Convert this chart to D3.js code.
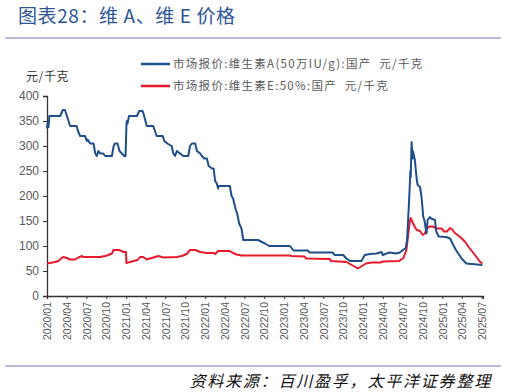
<!DOCTYPE html>
<html>
<head>
<meta charset="utf-8">
<script src="https://cdn.jsdelivr.net/npm/d3@7"></script>
<style>
  body { margin: 0; background: #fff; }
  svg { display: block; font-family: "Liberation Sans", Arial, sans-serif; }
  .cn { font-family: "Noto Sans CJK SC", sans-serif; }
</style>
</head>
<body>
<div id="chart"></div>
<script>
// Vitamin A (50万IU/g) price, 元/千克
const vaDates = [
  '2020-01-01','2020-01-05','2020-01-08','2020-01-12','2020-03-02','2020-03-14','2020-03-24','2020-04-02',
  '2020-04-17','2020-05-17','2020-05-23','2020-06-02','2020-06-25','2020-07-03','2020-07-07','2020-07-18',
  '2020-08-03','2020-08-11','2020-08-18','2020-08-26','2020-09-03','2020-09-17','2020-09-26','2020-10-27',
  '2020-11-04','2020-11-10','2020-11-22','2020-12-01','2020-12-12','2020-12-23','2020-12-29','2021-01-02',
  '2021-01-04','2021-01-07','2021-01-14','2021-02-20','2021-03-02','2021-03-18','2021-03-25','2021-04-06',
  '2021-05-06','2021-05-14','2021-05-22','2021-06-19','2021-06-26','2021-07-10','2021-07-30','2021-08-07',
  '2021-08-15','2021-08-23','2021-09-07','2021-09-22','2021-10-15','2021-10-23','2021-11-01','2021-11-16',
  '2021-11-24','2021-12-09','2021-12-17','2021-12-28','2022-01-09','2022-01-17','2022-02-02','2022-02-09',
  '2022-02-16','2022-02-24','2022-03-02','2022-03-04','2022-04-25','2022-05-03','2022-05-10','2022-05-21',
  '2022-05-29','2022-06-07','2022-06-18','2022-06-26','2022-09-02','2022-09-11','2022-10-04','2022-10-24',
  '2023-01-28','2023-02-13','2023-04-20','2023-04-29','2023-08-13','2023-08-23','2023-10-01','2023-10-16',
  '2023-11-01','2023-12-24','2024-01-09','2024-02-02','2024-03-03','2024-03-26','2024-04-01','2024-04-18',
  '2024-05-03','2024-06-03','2024-06-18','2024-07-03','2024-07-16','2024-07-22','2024-07-30','2024-08-04',
  '2024-08-06','2024-08-08','2024-08-12','2024-08-16','2024-08-18','2024-08-27','2024-09-05','2024-09-09',
  '2024-09-20','2024-09-27','2024-10-05','2024-10-10','2024-10-20','2024-10-25','2024-11-05','2024-11-10',
  '2024-11-28','2024-12-04','2024-12-15','2025-01-18','2025-02-06','2025-02-16','2025-03-05','2025-03-31',
  '2025-04-22','2025-07-05'
];
const vaValues = [
  335, 348, 338, 360, 360, 372, 372, 360,
  340, 340, 330, 320, 320, 310, 313, 305,
  305, 285, 280, 290, 285, 285, 280, 280,
  300, 305, 305, 290, 285, 280, 280, 340,
  350, 345, 360, 360, 370, 370, 360, 340,
  340, 330, 320, 320, 310, 305, 300, 285,
  280, 290, 285, 280, 280, 300, 305, 305,
  290, 285, 280, 275, 275, 260, 255, 255,
  230, 225, 215, 220, 220, 200, 195, 175,
  165, 145, 135, 112, 112, 110, 105, 100,
  100, 91, 91, 87, 87, 82, 82, 75,
  70, 70, 82, 84, 85, 88, 82, 85,
  87, 85, 87, 92, 96, 112, 178, 225,
  250, 238, 308, 275, 290, 272, 232, 222,
  218, 198, 158, 152, 125, 152, 158, 155,
  152, 129, 119, 118, 115, 106, 92, 75,
  65, 62
];

// Vitamin E 50% price, 元/千克
const veDates = [
  '2020-01-01','2020-02-08','2020-02-23','2020-03-06','2020-03-16','2020-04-02','2020-04-17','2020-05-10',
  '2020-05-25','2020-06-10','2020-06-17','2020-09-03','2020-09-26','2020-10-11','2020-10-27','2020-11-04',
  '2020-11-27','2020-12-12','2020-12-17','2020-12-31','2021-01-02','2021-01-20','2021-02-04','2021-02-23',
  '2021-03-06','2021-03-21','2021-04-06','2021-04-21','2021-05-14','2021-05-29','2021-06-22','2021-08-23',
  '2021-09-15','2021-10-08','2021-10-23','2021-11-16','2021-12-09','2022-01-09','2022-02-09','2022-02-16',
  '2022-03-02','2022-04-25','2022-05-10','2022-05-26','2022-06-18','2023-01-28','2023-02-03','2023-04-06',
  '2023-04-12','2023-08-01','2023-08-05','2023-10-16','2023-12-08','2024-01-14','2024-02-10','2024-03-22',
  '2024-04-01','2024-06-15','2024-07-05','2024-07-19','2024-07-24','2024-08-04','2024-08-08','2024-08-18',
  '2024-08-27','2024-09-05','2024-09-20','2024-10-03','2024-10-12','2024-10-22','2024-11-05','2024-11-18',
  '2024-12-06','2024-12-30','2025-01-08','2025-01-22','2025-02-06','2025-02-14','2025-02-28','2025-03-22',
  '2025-04-15','2025-05-08','2025-06-01','2025-06-23','2025-07-05'
];
const veValues = [
  65, 68, 70, 75, 78, 76, 73, 73,
  77, 80, 78, 78, 80, 82, 85, 92,
  92, 90, 88, 88, 66, 68, 70, 72,
  78, 78, 73, 75, 78, 80, 77, 78,
  80, 84, 92, 92, 88, 86, 86, 84,
  90, 90, 86, 83, 81, 81, 80, 79,
  75, 74, 70, 68, 55, 65, 67, 67,
  69, 70, 76, 92, 110, 150, 156, 146,
  138, 132, 130, 122, 125, 136, 139, 139,
  135, 135, 129, 129, 136, 134, 126, 119,
  109, 95, 82, 69, 65
];

const yTicks = [0, 50, 100, 150, 200, 250, 300, 350, 400];
const seriesNames = ['市场报价:维生素A(50万IU/g):国产  元/千克', '市场报价:维生素E:50%:国产  元/千克'];
const seriesColors = ['#1f4e8c', '#e8192c'];

const W = 507, H = 392;
const margin = { left: 47, right: 24, top: 96, bottom: 96 };
const parse = d3.timeParse('%Y-%m-%d');

const svg = d3.select('#chart').append('svg').attr('width', W).attr('height', H);

// Title and rules
svg.append('text').attr('class', 'cn')
  .attr('x', 18).attr('y', 23)
  .attr('font-size', 19).attr('letter-spacing', 0.6).attr('fill', '#2f5597')
  .text('图表28：维 A、维 E 价格');
svg.append('line').attr('x1', 5).attr('x2', 501).attr('y1', 38).attr('y2', 38)
  .attr('stroke', '#9fa5d3').attr('stroke-width', 1.5);
svg.append('line').attr('x1', 5).attr('x2', 501).attr('y1', 366).attr('y2', 366)
  .attr('stroke', '#9fa5d3').attr('stroke-width', 1.5);
svg.append('text').attr('class', 'cn')
  .attr('x', 492).attr('y', 387).attr('text-anchor', 'end')
  .attr('font-size', 16).attr('letter-spacing', 1.8)
  .attr('font-style', 'italic').attr('fill', '#111')
  .text('资料来源：百川盈孚，太平洋证券整理');

const x = d3.scaleTime()
  .domain([parse('2020-01-01'), parse('2025-07-08')])
  .range([margin.left, W - margin.right]);
const y = d3.scaleLinear().domain([0, 400]).range([H - margin.bottom, margin.top]);

// Axes
const xTicks = d3.timeMonth.every(3).range(parse('2020-01-01'), parse('2025-07-02'));
const xAxis = svg.append('g')
  .attr('transform', `translate(0,${y(0)})`)
  .call(d3.axisBottom(x).tickValues(xTicks).tickSize(3).tickFormat(d3.timeFormat('%Y/%m')));
xAxis.selectAll('text')
  .attr('font-size', 10.5).attr('fill', '#595959')
  .attr('text-anchor', 'end')
  .attr('transform', 'rotate(-90)')
  .attr('x', -6).attr('y', 0).attr('dy', '0.35em');

const yAxis = svg.append('g')
  .attr('transform', `translate(${margin.left},0)`)
  .call(d3.axisLeft(y).tickValues(yTicks).tickSize(4));
yAxis.selectAll('text').attr('font-size', 12).attr('fill', '#595959').attr('x', -8);

svg.selectAll('.domain').attr('stroke', '#333').attr('stroke-width', 1.3);
svg.selectAll('.tick line').attr('stroke', '#333');

svg.append('text').attr('class', 'cn')
  .attr('x', 26).attr('y', 81).attr('font-size', 12).attr('letter-spacing', 0.6).attr('fill', '#333')
  .text('元/千克');

// Lines
const line = d3.line()
  .x(d => x(d[0]))
  .y(d => y(d[1]));

const series = [
  d3.zip(vaDates.map(parse), vaValues),
  d3.zip(veDates.map(parse), veValues)
];

[1, 0].forEach(i => {
  svg.append('path')
    .datum(series[i])
    .attr('fill', 'none')
    .attr('stroke', seriesColors[i])
    .attr('stroke-width', 2)
    .attr('stroke-linejoin', 'round')
    .attr('d', line);
});

// Legend
const legend = svg.append('g').attr('transform', 'translate(141,64)');
seriesNames.forEach((name, i) => {
  const g = legend.append('g').attr('transform', `translate(0,${i * 22})`);
  g.append('line').attr('x1', 0).attr('x2', 29)
    .attr('stroke', seriesColors[i]).attr('stroke-width', 2.5);
  g.append('text').attr('class', 'cn')
    .attr('x', 32).attr('y', 0).attr('dy', '0.35em')
    .attr('font-size', 11.5).attr('letter-spacing', 1.3).attr('fill', '#595959')
    .attr('xml:space', 'preserve').style('white-space', 'pre')
    .text(name);
});
</script>
</body>
</html>
